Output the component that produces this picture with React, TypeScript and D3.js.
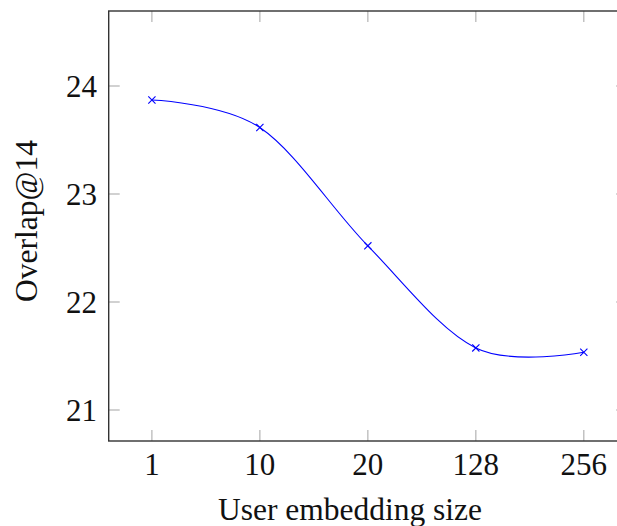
import React, { useEffect, useRef } from 'react';
import * as d3 from 'd3';

const sizes = ['1', '10', '20', '128', '256'];
const overlap = [23.87, 23.615, 22.52, 21.575, 21.535];
const yTicks = [21, 22, 23, 24];

const App = () => {
  const svg = useRef(null);
  const width = 617;
  const height = 526;
  // plot frame (right edge sits just outside the picture, as in the original)
  const frame = { left: 108.7, right: 627, top: 11, bottom: 441 };

  const renderChart = (svg: any) => {
    svg.selectAll('*').remove();

    const xscale = d3
      .scaleLinear()
      .domain([-0.4, 4.4])
      .range([frame.left, frame.right]);

    const yscale = d3
      .scaleLinear()
      .domain([21 - 31 / 108, 24 + 75 / 108])
      .range([frame.bottom, frame.top]);

    const tickColor = '#b3b3b3';
    const tickLen = 11;

    // x ticks, bottom and top, pointing inward
    const xt = svg.append('g');
    sizes.forEach((s, i) => {
      const x = xscale(i);
      xt.append('line')
        .attr('x1', x).attr('x2', x)
        .attr('y1', frame.bottom).attr('y2', frame.bottom - tickLen)
        .attr('stroke', tickColor).attr('stroke-width', 1.2);
      xt.append('line')
        .attr('x1', x).attr('x2', x)
        .attr('y1', frame.top).attr('y2', frame.top + tickLen)
        .attr('stroke', tickColor).attr('stroke-width', 1.2);
      xt.append('text')
        .attr('x', x)
        .attr('y', 475)
        .attr('text-anchor', 'middle')
        .attr('font-family', '"Liberation Serif", serif')
        .attr('font-size', 31)
        .attr('fill', '#111')
        .text(s);
    });

    // y ticks, left and right
    const yt = svg.append('g');
    yTicks.forEach(v => {
      const y = yscale(v);
      yt.append('line')
        .attr('x1', frame.left).attr('x2', frame.left + tickLen)
        .attr('y1', y).attr('y2', y)
        .attr('stroke', tickColor).attr('stroke-width', 1.2);
      yt.append('line')
        .attr('x1', frame.right).attr('x2', frame.right - tickLen)
        .attr('y1', y).attr('y2', y)
        .attr('stroke', tickColor).attr('stroke-width', 1.2);
      yt.append('text')
        .attr('x', 97)
        .attr('y', y)
        .attr('dy', '0.35em')
        .attr('text-anchor', 'end')
        .attr('font-family', '"Liberation Serif", serif')
        .attr('font-size', 31)
        .attr('fill', '#111')
        .text(v);
    });

    // frame
    svg.append('rect')
      .attr('x', frame.left)
      .attr('y', frame.top)
      .attr('width', frame.right - frame.left)
      .attr('height', frame.bottom - frame.top)
      .attr('fill', 'none')
      .attr('stroke', '#333')
      .attr('stroke-width', 1.4);

    // smooth line
    const line = d3
      .line<number>()
      .x((d, i) => xscale(i))
      .y(d => yscale(d))
      .curve(d3.curveCardinal.tension(0));

    svg.append('path')
      .datum(overlap)
      .attr('d', line)
      .attr('fill', 'none')
      .attr('stroke', '#0000ff')
      .attr('stroke-width', 1.1);

    // x markers
    const m = 3.6;
    svg.append('g')
      .selectAll('path')
      .data(overlap)
      .enter()
      .append('path')
      .attr('d', (d: number, i: number) => {
        const x = xscale(i);
        const y = yscale(d);
        return `M${x - m},${y - m}L${x + m},${y + m}M${x - m},${y + m}L${x + m},${y - m}`;
      })
      .attr('stroke', '#0000ff')
      .attr('stroke-width', 1.1);

    // axis titles
    svg.append('text')
      .attr('x', 350)
      .attr('y', 520)
      .attr('text-anchor', 'middle')
      .attr('font-family', '"Liberation Serif", serif')
      .attr('font-size', 31.5)
      .attr('fill', '#111')
      .text('User embedding size');

    svg.append('text')
      .attr('transform', 'translate(37, 221) rotate(-90)')
      .attr('text-anchor', 'middle')
      .attr('font-family', '"Liberation Serif", serif')
      .attr('font-size', 31.5)
      .attr('fill', '#111')
      .text('Overlap@14');
  };

  useEffect(() => {
    renderChart(d3.select(svg.current));
  }, []);

  return (
    <svg
      ref={svg}
      width={width}
      height={height}
      style={{ position: 'absolute', left: 0, top: 0, background: '#fff' }}
    />
  );
};

export default App;
